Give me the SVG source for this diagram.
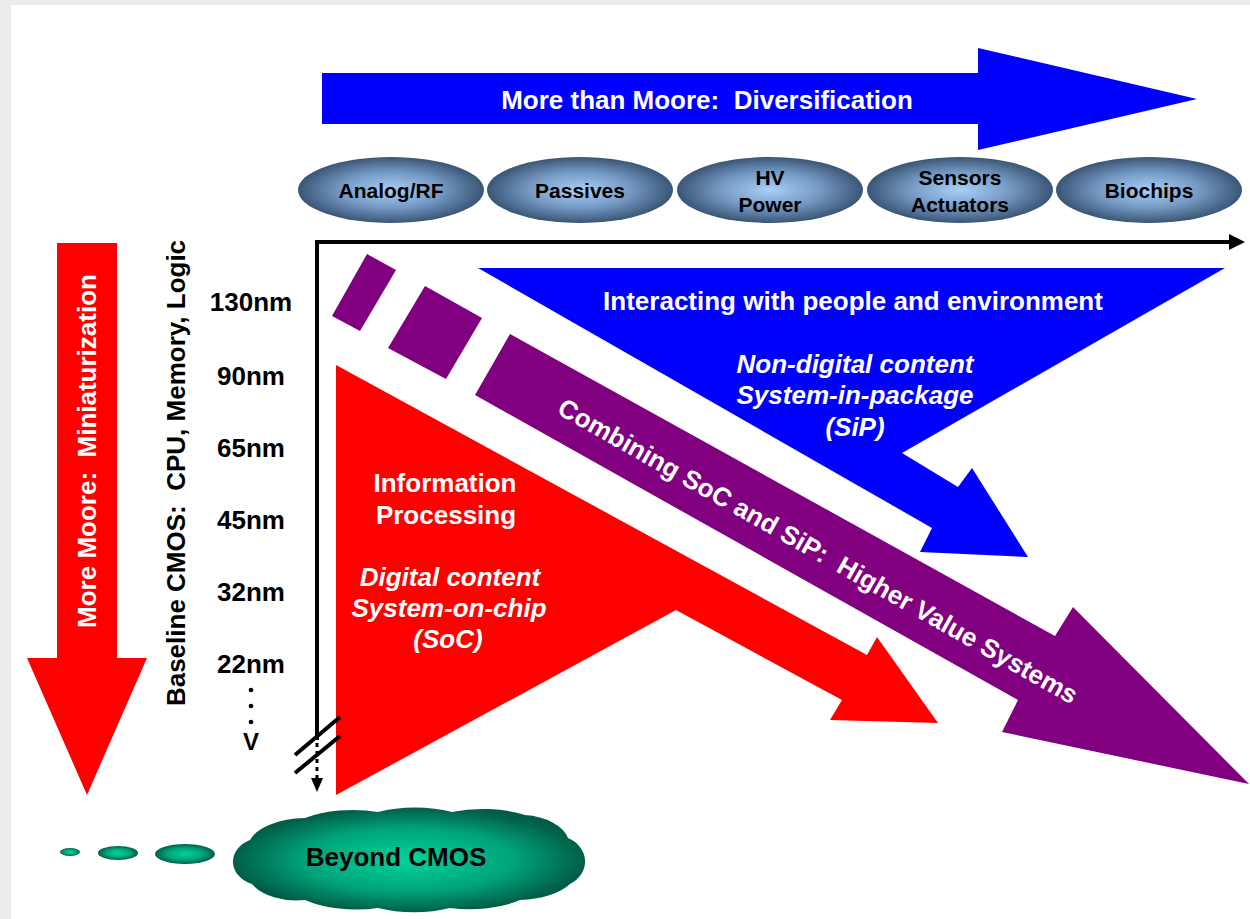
<svg xmlns="http://www.w3.org/2000/svg" width="1250" height="919" viewBox="0 0 1250 919">
<defs>
<radialGradient id="gEll" cx="50%" cy="50%" r="50%"><stop offset="0" stop-color="#a8d0f8"/><stop offset="0.55" stop-color="#7498c2"/><stop offset="1" stop-color="#3a5676"/></radialGradient>
<radialGradient id="gCloud" cx="50%" cy="50%" r="50%"><stop offset="0" stop-color="#00d49c"/><stop offset="0.6" stop-color="#00a37a"/><stop offset="1" stop-color="#005e46"/></radialGradient>
</defs>
<style>
text{font-family:"Liberation Sans",Arial,sans-serif;font-weight:bold;white-space:pre}
.w{fill:#fff}.k{fill:#000}.it{font-style:italic}
.big{font-size:26px}.el{font-size:21px}
.mid{text-anchor:middle}
.ell{fill:url(#gEll)}
.ax{stroke:#000;stroke-width:4;fill:none}
</style>
<rect x="0" y="0" width="1250" height="919" fill="#ececec"/>
<rect x="11" y="5" width="1239" height="914" fill="#fff"/>

<g id="diversification">
<polygon points="322,73 978,73 978,48 1197,99 978,150 978,124 322,124" fill="#0000ff"/>
<text class="w big mid" x="707" y="109" xml:space="preserve">More than Moore:  Diversification</text>
</g>

<g id="analog-rf"><ellipse class="ell" cx="391" cy="190" rx="93" ry="33"/><text class="k el mid" x="391" y="198">Analog/RF</text></g>
<g id="passives"><ellipse class="ell" cx="580" cy="190" rx="93" ry="33"/><text class="k el mid" x="580" y="198">Passives</text></g>
<g id="hv-power"><ellipse class="ell" cx="770" cy="190" rx="93" ry="33"/><text class="k el mid" x="770" y="185">HV</text><text class="k el mid" x="770" y="212">Power</text></g>
<g id="sensors"><ellipse class="ell" cx="960" cy="190" rx="93" ry="33"/><text class="k el mid" x="960" y="185">Sensors</text><text class="k el mid" x="960" y="212">Actuators</text></g>
<g id="biochips"><ellipse class="ell" cx="1149" cy="190" rx="93" ry="33"/><text class="k el mid" x="1149" y="198">Biochips</text></g>

<g id="miniaturization">
<polygon points="57,243 117,243 117,658 147,658 87,795 27,658 57,658" fill="#ff0000"/>
<text class="w big mid" transform="translate(96,451) rotate(-90)" x="0" y="0" xml:space="preserve">More Moore:  Miniaturization</text>
</g>

<g id="baseline-label">
<text class="k big mid" transform="translate(185,473) rotate(-90)" x="0" y="0" xml:space="preserve">Baseline CMOS:  CPU, Memory, Logic</text>
</g>

<g id="nodes-nm">
<text class="k big mid" x="251" y="311">130nm</text>
<text class="k big mid" x="251" y="385">90nm</text>
<text class="k big mid" x="251" y="457">65nm</text>
<text class="k big mid" x="251" y="529">45nm</text>
<text class="k big mid" x="251" y="601">32nm</text>
<text class="k big mid" x="251" y="673">22nm</text>
<circle cx="251" cy="690" r="2.3" fill="#000"/>
<circle cx="251" cy="706" r="2.3" fill="#000"/>
<circle cx="251" cy="722" r="2.3" fill="#000"/>
<text class="k mid" style="font-size:24px" x="251" y="750">V</text>
</g>

<g id="sip">
<polygon points="478,268 1225,268 902,453 958,487 972,468 1028,557 920,552 932,528" fill="#0000ff"/>
<text class="w big mid" x="853" y="310">Interacting with people and environment</text>
<text class="w big mid it" x="855" y="373">Non-digital content</text>
<text class="w big mid it" x="855" y="404">System-in-package</text>
<text class="w big mid it" x="855" y="436">(SiP)</text>
</g>

<g id="combining">
<polygon points="367,254 396,270 360,331 332,316" fill="#800080"/>
<polygon points="425,286 482,318 446,379 388,348" fill="#800080"/>
<polygon points="510,334 1055,636 1073,607 1249,784 1002,732 1018,700 475,395" fill="#800080"/>
<text class="w big mid" transform="translate(818,551) rotate(29.5)" x="0" y="9" xml:space="preserve">Combining SoC and SiP:  Higher Value Systems</text>
</g>

<g id="soc">
<polygon points="336,365 867,655 877,637 938,723 830,720 842,700 676,610 336,795" fill="#ff0000"/>
<text class="w big mid" x="445" y="492">Information</text>
<text class="w big mid" x="446" y="524">Processing</text>
<text class="w big mid it" x="450" y="586">Digital content</text>
<text class="w big mid it" x="449" y="617">System-on-chip</text>
<text class="w big mid it" x="448" y="648">(SoC)</text>
</g>

<g id="beyond-cmos">
<ellipse cx="70" cy="852" rx="10" ry="4" fill="url(#gCloud)"/>
<ellipse cx="118" cy="853" rx="20" ry="7" fill="url(#gCloud)"/>
<ellipse cx="185" cy="854" rx="30" ry="10" fill="url(#gCloud)"/>
<path d="M 250 840 A 60 30 0 0 1 305 818 A 70 30 0 0 1 378 812 A 70 30 0 0 1 452 812 A 70 30 0 0 1 525 815 A 50 30 0 0 1 568 838 A 30 26 0 0 1 570 884 A 60 30 0 0 1 520 900 A 70 30 0 0 1 450 908 A 70 30 0 0 1 378 908 A 70 30 0 0 1 305 900 A 50 30 0 0 1 252 884 A 30 24 0 0 1 250 840 Z" fill="url(#gCloud)"/>
<text class="k big mid" x="396" y="866">Beyond CMOS</text>
</g>

<g id="connectors">
<polyline class="ax" points="317,740 317,242 1232,242"/>
<polygon points="1229,234 1245,242 1229,250" fill="#000"/>
<line class="ax" x1="295" y1="755" x2="340" y2="717"/>
<line class="ax" x1="295" y1="773" x2="340" y2="736"/>
<line x1="317" y1="743" x2="317" y2="779" stroke="#000" stroke-width="3" stroke-dasharray="4 4"/>
<polygon points="311,778 323,778 317,792" fill="#000"/>
</g>
</svg>
